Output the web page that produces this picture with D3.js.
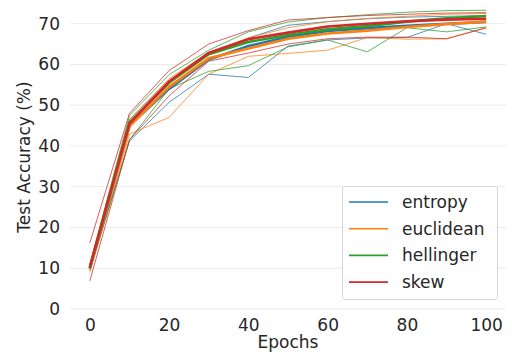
<!DOCTYPE html>
<html><head><meta charset="utf-8">
<script src="https://cdn.jsdelivr.net/npm/d3@7"></script>
<style>body{margin:0;background:#fff}svg{display:block}text{font-family:"DejaVu Sans",sans-serif;fill:#262626}</style>
</head><body><svg id="c" width="512" height="356"></svg>
<script>
const epochs = [0,10,20,30,40,50,60,70,80,90,100];
const methods = ["entropy","euclidean","hellinger","skew"];
const colors = ["#1f77b4","#ff7f0e","#2ca02c","#d62728"];
const yTicks = [0,10,20,30,40,50,60,70];
const xTicks = [0,20,40,60,80,100];
// mean (thick) curves
const meanEntropy   = [10.0,45.0,54.0,61.2,64.5,66.8,68.2,68.9,69.5,70.0,70.4];
const meanEuclidean = [9.8,44.8,54.5,61.5,63.9,66.3,67.6,68.3,69.2,69.9,70.5];
const meanHellinger = [10.0,45.8,55.5,62.5,65.5,67.2,68.6,69.4,70.5,71.3,71.9];
const meanSkew      = [10.3,45.5,55.8,62.8,66.2,67.8,69.3,70.0,70.6,71.0,71.2];
// upper (thin) curves
const upEntropy   = [10.5,46.5,56.0,62.5,66.5,69.6,70.5,71.2,71.6,71.8,72.0];
const upEuclidean = [10.5,46.5,56.5,63.0,66.5,69.0,70.5,71.3,71.8,72.3,72.5];
const upHellinger = [11.0,47.5,57.5,63.5,68.0,70.4,71.5,72.2,72.8,73.2,73.3];
const upSkew      = [16.2,48.0,58.5,65.0,68.3,70.9,71.5,72.0,72.3,72.6,72.7];
// lower (thin) curves
const loEntropy   = [9.5,41.2,50.7,57.6,56.8,64.5,66.0,66.5,66.6,70.0,67.4];
const loEuclidean = [9.0,42.9,47.0,57.6,62.0,62.7,63.5,66.6,66.2,66.3,69.0];
const loHellinger = [9.5,41.5,54.0,58.3,59.7,64.3,66.0,63.1,69.0,68.0,69.2];
const loSkew      = [6.9,41.5,52.3,60.8,62.8,65.0,66.3,66.7,66.7,66.3,69.0];

const means = [meanEntropy,meanEuclidean,meanHellinger,meanSkew];
const ups = [upEntropy,upEuclidean,upHellinger,upSkew];
const los = [loEntropy,loEuclidean,loHellinger,loSkew];

const svg = d3.select("#c");
const L=70, R=506, T=9, B=309;
const x = d3.scaleLinear().domain([-5,105]).range([L,R]);
const y = d3.scaleLinear().domain([0,73.6]).range([B,T]);

// grid
svg.append("g").selectAll("line").data(yTicks).join("line")
  .attr("x1",L).attr("x2",R).attr("y1",d=>y(d)).attr("y2",d=>y(d))
  .attr("stroke","#ebebeb").attr("stroke-width",1);

// axes tick labels
const yAxis = d3.axisLeft(y).tickValues(yTicks).tickSize(0).tickPadding(10);
const gy = svg.append("g").attr("transform",`translate(${L},0)`).call(yAxis);
gy.select(".domain").remove();
gy.selectAll("text").style("font-size","17px").attr("fill","#262626").style("font-family","DejaVu Sans");
const xAxis = d3.axisBottom(x).tickValues(xTicks).tickSize(0).tickPadding(10);
const gx = svg.append("g").attr("transform",`translate(0,${B})`).call(xAxis);
gx.select(".domain").remove();
gx.selectAll("text").style("font-size","17px").attr("fill","#262626").style("font-family","DejaVu Sans");

const line = d3.line().x((d,i)=>x(epochs[i])).y(d=>y(d));
const g = svg.append("g");
methods.forEach((m,k)=>{
  [ups[k],los[k]].forEach(arr=>{
    g.append("path").attr("d",line(arr)).attr("fill","none")
     .attr("stroke",colors[k]).attr("stroke-width",0.9).attr("stroke-opacity",0.85);
  });
});
methods.forEach((m,k)=>{
  g.append("path").attr("d",line(means[k])).attr("fill","none")
   .attr("stroke",colors[k]).attr("stroke-width",2.6);
});

// labels
svg.append("text").attr("x",(L+R)/2).attr("y",348).attr("text-anchor","middle")
  .style("font-size","17px").text("Epochs");
svg.append("text").attr("transform",`translate(30,157) rotate(-90)`).attr("text-anchor","middle")
  .style("font-size","17px").text("Test Accuracy (%)");

// legend
const lg = svg.append("g");
lg.append("rect").attr("x",342.5).attr("y",186.5).attr("width",155).attr("height",113)
  .attr("rx",3).attr("fill","#fff").attr("fill-opacity",0.8).attr("stroke","#d6d6d6");
methods.forEach((m,k)=>{
  const yy = 202 + k*26.7;
  lg.append("line").attr("x1",349).attr("x2",388).attr("y1",yy).attr("y2",yy)
    .attr("stroke",colors[k]).attr("stroke-width",1.6);
  lg.append("text").attr("x",402).attr("y",yy).attr("dy","0.35em")
    .style("font-size","17px").text(m);
});
</script></body></html>
